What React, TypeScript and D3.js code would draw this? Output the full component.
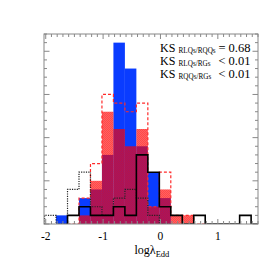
import React from "react";
import * as d3 from "d3";

// Histogram bins (log lambda_Edd), bin width 0.2 starting at -2.02
const binStart = -2.02;
const binWidth = 0.2;
const rqqs = [0, 1, 0, 3, 4, 8, 21, 18, 9, 6, 3, 0, 0, 0, 0, 0, 0, 0, 0];
const rlqs = [0, 0, 0, 1, 5, 13, 11, 9, 11, 2, 4, 1, 1, 0, 0, 0, 0, 0, 0];
const rlqsAll = [0, 0, 0, 3, 7, 15, 14, 13, 14, 2, 6, 1, 1, 0, 0, 0, 0, 0, 0];
const rgs = [0, 0, 1, 2, 1, 1, 2, 1, 8, 6, 2, 1, 0, 1, 0, 0, 0, 1, 0];
const rgsAll = [1, 0, 4, 6, 2, 1, 3, 4, 3, 1, 0, 0, 0, 0, 0, 0, 0, 0, 0];
const xTickValues = [-2, -1, 0, 1];
const xTickLabels = ["-2", "-1", "0", "1"];
const ksLines = [
  { sub: "RLQs/RQQs", val: "= 0.68" },
  { sub: "RLQs/RGs", val: "< 0.01" },
  { sub: "RQQs/RGs", val: "< 0.01" },
];

const W = 264;
const H = 264;
const L = 44;
const R = 258;
const T = 34;
const B = 224;

export default function App() {
  const x = d3.scaleLinear().domain([-2.03, 1.7]).range([L, R]);
  const y = d3.scaleLinear().domain([0, 22]).range([B, T]);
  const edge = (i: number) => binStart + i * binWidth;
  const line = d3
    .line<[number, number]>()
    .x((d) => x(d[0]))
    .y((d) => y(d[1]));

  const stepPts = (vals: number[], from: number, to: number) => {
    const pts: [number, number][] = [[edge(from), 0]];
    for (let i = from; i < to; i++) {
      pts.push([edge(i), vals[i]]);
      pts.push([edge(i + 1), vals[i]]);
    }
    pts.push([edge(to), 0]);
    return pts;
  };

  const minorX = d3.range(-20, 18).map((v) => v / 10);
  const minorY = d3.range(0, 23);
  const font = "'Liberation Serif', 'Times New Roman', serif";

  const barRect = (v: number, i: number) => ({
    x: x(edge(i)),
    y: y(v),
    width: x(edge(i + 1)) - x(edge(i)),
    height: y(0) - y(v),
  });

  return (
    <svg
      width={W}
      height={H}
      style={{ position: "absolute", left: 0, top: 0, background: "#fff" }}
    >
      <defs>
        <pattern id="hatch" width={2} height={2} patternUnits="userSpaceOnUse">
          <rect x={0} y={0} width={2} height={2} fill="#ff0000" fillOpacity={0.62} />
          <rect x={0} y={0} width={1} height={1} fill="#ff0000" fillOpacity={0.25} />
          <rect x={1} y={1} width={1} height={1} fill="#ff0000" fillOpacity={0.25} />
        </pattern>
        <clipPath id="plot">
          <rect x={L} y={T} width={R - L} height={B - T} />
        </clipPath>
      </defs>

      <g clipPath="url(#plot)">
        {rqqs.map((v, i) =>
          v > 0 ? <rect key={"b" + i} {...barRect(v, i)} fill="#0a3cff" /> : null
        )}
        {rlqs.map((v, i) =>
          v > 0 ? <rect key={"r" + i} {...barRect(v, i)} fill="url(#hatch)" /> : null
        )}
        <path
          d={line(stepPts(rlqsAll, 2, 14)) || ""}
          fill="none"
          stroke="#ff2a2a"
          strokeWidth={1.2}
          strokeDasharray="3,2"
        />
        <path
          d={line(stepPts(rgsAll, 0, 11)) || ""}
          fill="none"
          stroke="#222"
          strokeWidth={1.2}
          strokeDasharray="1.2,1.2"
        />
        <path
          d={line(stepPts(rgs, 2, 19)) || ""}
          fill="none"
          stroke="#000"
          strokeWidth={1.6}
        />
      </g>

      {/* frame */}
      <rect x={L} y={T} width={R - L} height={B - T} fill="none" stroke="#888" strokeWidth={1} />
      {minorX.map((v) => {
        const major = Math.abs(v - Math.round(v)) < 1e-9;
        const len = major ? 5 : 3;
        const px = x(v);
        if (px < L || px > R) return null;
        return (
          <g key={"tx" + v}>
            <line x1={px} x2={px} y1={T} y2={T + len} stroke="#888" />
            <line x1={px} x2={px} y1={B} y2={B - len} stroke="#888" />
          </g>
        );
      })}
      {minorY.map((v) => {
        const major = v % 5 === 0;
        const len = major ? 5.5 : 3;
        const py = y(v);
        return (
          <g key={"ty" + v}>
            <line x1={L} x2={L + len} y1={py} y2={py} stroke="#888" />
            <line x1={R} x2={R - len} y1={py} y2={py} stroke="#888" />
          </g>
        );
      })}

      {xTickValues.map((v, i) => (
        <text
          key={"xl" + v}
          x={x(v)}
          y={240}
          textAnchor="middle"
          fontFamily={font}
          fontSize={11.5}
          fill="#000"
        >
          {xTickLabels[i]}
        </text>
      ))}

      <text x={134.5} y={254} fontFamily={font} fontSize={12} fill="#000">
        logλ
        <tspan fontSize={8.5} dy={2.5}>
          Edd
        </tspan>
      </text>

      {ksLines.map((k, i) => {
        const by = 51.7 + i * 13;
        return (
          <g key={"ks" + i}>
            <text x={160} y={by} fontFamily={font} fontSize={12} fill="#000">
              KS
            </text>
            <text x={178.5} y={by + 1.6} fontFamily={font} fontSize={7.2} fill="#000">
              {k.sub}
            </text>
            <text
              x={250.5}
              y={by}
              textAnchor="end"
              fontFamily={font}
              fontSize={12.5}
              fill="#000"
            >
              {k.val}
            </text>
          </g>
        );
      })}
    </svg>
  );
}
